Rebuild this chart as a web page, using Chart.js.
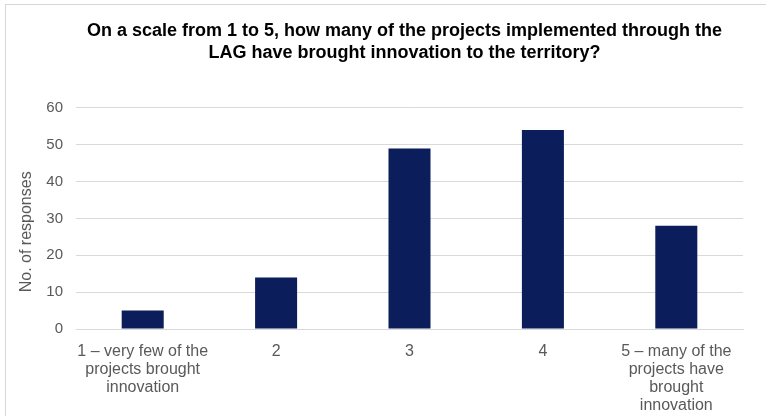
<!DOCTYPE html>
<html>
<head>
<meta charset="utf-8">
<script src="https://cdn.jsdelivr.net/npm/chart.js@4/dist/chart.umd.min.js"></script>
<style>
  body { margin: 0; background: #fff; }
  #frame {
    position: absolute; left: 5px; top: 4px;
    width: 761px; height: 411px;
    border-top: 1px solid #d6d6d6; border-left: 1px solid #d6d6d6;
  }
</style>
</head>
<body>
<div id="frame"><canvas id="chart"></canvas></div>
<script>
// Data
const categories = [
    ['1 \u2013 very few of the', 'projects brought', 'innovation'],
    '2',
    '3',
    '4',
    ['5 \u2013 many of the', 'projects have', 'brought', 'innovation']
];
const responses = [5, 14, 49, 54, 28];
const titleLines = [
    'On a scale from 1 to 5, how many of the projects implemented through the',
    'LAG have brought innovation to the territory?'
];
// trailing no-break spaces push the rotated label a little lower, as in the original
const yAxisLabel = 'No. of responses' + '\u00a0'.repeat(6);

const FONT = "'Liberation Sans', Arial, sans-serif";
const GREY = '#595959';

// title sits a bit right of the canvas centre in the original
const shiftTitle = {
    id: 'shiftTitle',
    afterLayout(chart) {
        const t = chart.titleBlock;
        if (t) { t.left += 30; t.right += 30; }
    }
};

new Chart(document.getElementById('chart'), {
    type: 'bar',
    data: {
        labels: categories,
        datasets: [{
            data: responses,
            backgroundColor: '#0b1e5b',
            borderWidth: 0,
            barPercentage: 0.315,
            categoryPercentage: 1
        }]
    },
    plugins: [shiftTitle],
    options: {
        responsive: true,
        maintainAspectRatio: false,
        animation: false,
        layout: { padding: { left: 0, right: 24, top: 0, bottom: 0 } },
        plugins: {
            legend: { display: false },
            tooltip: { enabled: false },
            title: {
                display: true,
                text: titleLines,
                color: '#000',
                font: { family: FONT, size: 18, weight: 'bold', lineHeight: 1.222 },
                padding: { top: 15, bottom: 44 }
            }
        },
        scales: {
            x: {
                afterFit: s => { s.height = 87; },
                grid: { display: false, drawTicks: false },
                border: { display: true, color: '#d9d9d9', width: 1 },
                ticks: {
                    color: GREY,
                    font: { family: FONT, size: 16, lineHeight: 1.12 },
                    padding: 14,
                    maxRotation: 0,
                    autoSkip: false
                }
            },
            y: {
                min: 0,
                max: 60,
                afterFit: s => { s.width = 70; },
                grid: { color: '#d9d9d9', drawTicks: false },
                border: { display: false },
                ticks: {
                    stepSize: 10,
                    color: GREY,
                    font: { family: FONT, size: 15 },
                    padding: 13
                },
                title: {
                    display: true,
                    text: yAxisLabel,
                    color: GREY,
                    font: { family: FONT, size: 16 },
                    padding: { top: 11, bottom: 0 }
                }
            }
        }
    }
});
</script>
</body>
</html>
